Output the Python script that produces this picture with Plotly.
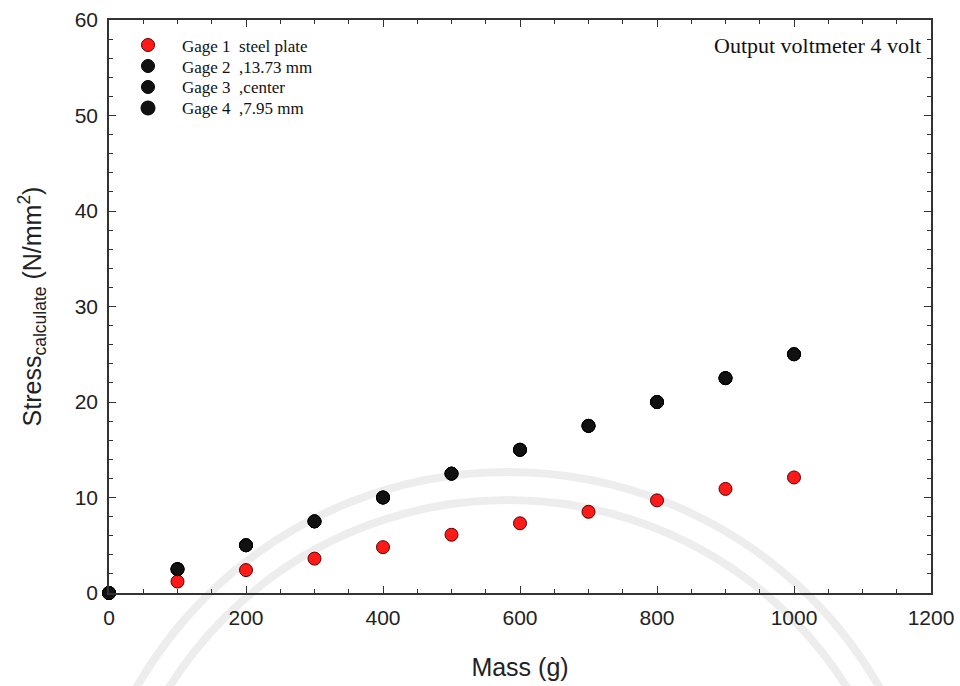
import plotly.graph_objects as go

# Applied mass on the plate (g)
mass = [0, 100, 200, 300, 400, 500, 600, 700, 800, 900, 1000]

# Calculated stress (N/mm^2) for each strain gage
gage1_steel_plate = [0, 1.2, 2.4, 3.6, 4.8, 6.1, 7.3, 8.5, 9.7, 10.9, 12.1]
gage2_13_73mm = [0, 2.5, 5.0, 7.5, 10.0, 12.5, 15.0, 17.5, 20.0, 22.5, 25.0]
gage3_center = [0, 2.5, 5.0, 7.5, 10.0, 12.5, 15.0, 17.5, 20.0, 22.5, 25.0]
gage4_7_95mm = [0, 2.5, 5.0, 7.5, 10.0, 12.5, 15.0, 17.5, 20.0, 22.5, 25.0]

series_names = ["Gage 1  steel plate", "Gage 2  ,13.73 mm", "Gage 3  ,center", "Gage 4  ,7.95 mm"]
series_fill = ["#ff1a1a", "#111111", "#111111", "#111111"]
series_edge = ["#5a0000", "#000000", "#000000", "#000000"]

W, H = 960, 686
L, R, T, B = 109, 29, 20, 93
pw, ph = W - L - R, H - T - B


def to_paper(px, py):
    """Convert a pixel position on the page to paper coordinates."""
    return (px - L) / pw, (H - B - py) / ph


fig = go.Figure()

for name, ys, fc, ec in zip(series_names,
                            [gage1_steel_plate, gage2_13_73mm, gage3_center, gage4_7_95mm],
                            series_fill, series_edge):
    fig.add_trace(go.Scatter(x=mass, y=ys, mode="markers", name=name, showlegend=False,
                             marker=dict(symbol="circle", size=13, color=fc,
                                         line=dict(color=ec, width=1)),
                             cliponaxis=False))

# faint circular watermark bands behind the chart
cx, cy = 508, 900
for r in (428, 400):
    x0, y0 = to_paper(cx - r, cy + r)
    x1, y1 = to_paper(cx + r, cy - r)
    fig.add_shape(type="circle", xref="paper", yref="paper", x0=x0, y0=y0, x1=x1, y1=y1,
                  line=dict(color="rgba(0,0,0,0.07)", width=8), layer="below")

# key in the upper-left corner: symbol + label per gage
key_font = dict(family="Liberation Serif, Times New Roman, serif", size=17, color="#111111")
for i, (name, fc, ec) in enumerate(zip(series_names, series_fill, series_edge)):
    ky = 45 + 21 * i
    kx, kyp = to_paper(148, ky)
    d = 7 if i == 3 else 6.5
    fig.add_shape(type="circle", xref="paper", yref="paper",
                  xsizemode="pixel", ysizemode="pixel", xanchor=kx, yanchor=kyp,
                  x0=-d, x1=d, y0=-d, y1=d,
                  fillcolor=fc, line=dict(color=ec, width=1))
    tx, ty = to_paper(180, ky + 1)
    fig.add_annotation(text=name, xref="paper", yref="paper", x=tx, y=ty,
                       xanchor="left", yanchor="middle", showarrow=False, font=key_font)

ax_common = dict(
    showline=True, linecolor="#333333", linewidth=1.5, mirror="allticks",
    ticks="inside", ticklen=7, tickwidth=1.2, tickcolor="#333333",
    showgrid=False, zeroline=False, automargin=False,
    tickfont=dict(family="Liberation Sans, Arial, sans-serif", size=21, color="#222222"),
)
title_font = dict(family="Liberation Sans, Arial, sans-serif", size=25, color="#222222")

fig.update_xaxes(range=[0, 1200], dtick=200, tick0=0, ticklabelstandoff=5,
                 minor=dict(dtick=50, ticks="inside", ticklen=4, tickcolor="#333333", tickwidth=1.2),
                 title=dict(text="Mass (g)", standoff=31, font=title_font),
                 **ax_common)
fig.update_yaxes(range=[0, 60], dtick=10, tick0=0, ticklabelstandoff=5,
                 minor=dict(dtick=2, ticks="inside", ticklen=4, tickcolor="#333333", tickwidth=1.2),
                 title=dict(text="Stress<sub>calculate</sub> (N/mm<sup>2</sup>)", standoff=26,
                            font=title_font),
                 **ax_common)

ox, oy = to_paper(923, 45)
fig.add_annotation(text="Output voltmeter 4 volt", xref="paper", yref="paper",
                   x=ox, y=oy, xanchor="right", yanchor="middle", showarrow=False,
                   font=dict(family="Liberation Serif, Times New Roman, serif", size=22,
                             color="#111111"))

fig.update_layout(
    width=W, height=H,
    margin=dict(l=L, r=R, t=T, b=B, autoexpand=False),
    paper_bgcolor="white", plot_bgcolor="rgba(0,0,0,0)",
    showlegend=False,
)

fig.write_html("out.html")
